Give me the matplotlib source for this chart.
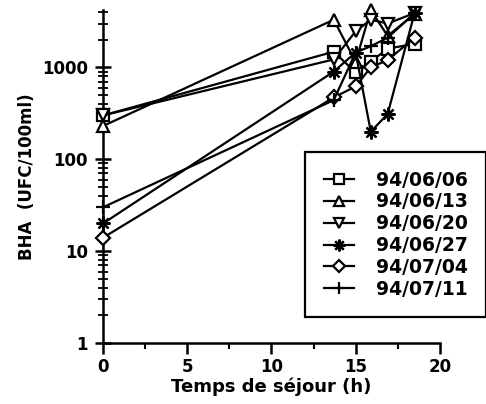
import numpy as np
import matplotlib.pyplot as plt
from matplotlib.ticker import FixedLocator, NullFormatter

# temps de sejour (h) and BHA counts
t = [0, 13.7, 15.0, 15.9, 16.9, 18.5]

bha_0606 = [300, 1480, 880, 1150, 1600, 1800]
bha_0613 = [230, 3300, 1150, 4200, 2200, 3800]
bha_0620 = [300, 1220, 2470, 3300, 3000, 3900]
bha_0627 = [20, 900, 1450, 200, 310, 3900]
bha_0704 = [14, 470, 620, 1000, 1200, 2100]
bha_0711 = [30, 440, 1450, 1700, 2100, 3900]

labels = ["94/06/06", "94/06/13", "94/06/20", "94/06/27", "94/07/04", "94/07/11"]
series = [bha_0606, bha_0613, bha_0620, bha_0627, bha_0704, bha_0711]
markers = ["s", "^", "v", (8, 2, 0), "D", "+"]
msizes = [8, 9, 9, 10, 7, 10]

yticks = [1, 10, 100, 1000]
xticks = [0, 5, 10, 15, 20]

plt.rcParams['font.family'] = ['DejaVu Sans']
plt.rcParams['font.weight'] = 'bold'

fig = plt.figure(figsize=(4.86, 4.04), dpi=100)
ax = fig.add_axes([0.212, 0.151, 0.693, 0.824])

for y, lab, m, ms in zip(series, labels, markers, msizes):
    ax.plot(t, y, color="black", lw=1.6, marker=m, ms=ms, mfc="white",
            mec="black", mew=1.6, label=lab, clip_on=False, zorder=3)

ax.set_yscale("log")
ax.set_xlim(0, 20)
ax.set_ylim(1, 4200)

ax.spines["top"].set_visible(False)
ax.spines["right"].set_visible(False)
ax.spines["left"].set_linewidth(1.8)
ax.spines["bottom"].set_linewidth(1.8)

ax.xaxis.set_major_locator(FixedLocator(xticks))
ax.xaxis.set_minor_locator(FixedLocator([2.5, 7.5, 12.5, 17.5]))
ax.set_xticklabels([str(v) for v in xticks], fontsize=12, fontweight="bold")
ax.set_yticks(yticks)
ax.set_yticklabels([str(v) for v in yticks], fontsize=12, fontweight="bold")
ax.yaxis.set_minor_formatter(NullFormatter())

ax.tick_params(axis="x", which="major", direction="out", length=8, width=1.8, pad=3)
ax.tick_params(axis="x", which="minor", direction="out", length=4, width=1.5)
ax.tick_params(axis="y", which="major", direction="inout", length=12, width=1.8, pad=5)
ax.tick_params(axis="y", which="minor", direction="inout", length=7, width=1.3)

ax.set_xlabel("Temps de séjour (h)", fontsize=13, fontweight="bold", labelpad=1)
ax.set_ylabel("BHA  (UFC/100ml)", fontsize=12, fontweight="bold", labelpad=4)

leg = ax.legend(loc="upper left", bbox_to_anchor=(0.628, 0.624),
                bbox_transform=fig.transFigure, fontsize=13.5,
                handlelength=1.6, handletextpad=1.15, labelspacing=0.15,
                borderpad=1.0, borderaxespad=0, fancybox=False,
                edgecolor="black", framealpha=1, markerscale=0.85)
leg.get_frame().set_linewidth(1.6)
for txt in leg.get_texts():
    txt.set_fontweight("bold")

fig.savefig("out.png", dpi=100)
